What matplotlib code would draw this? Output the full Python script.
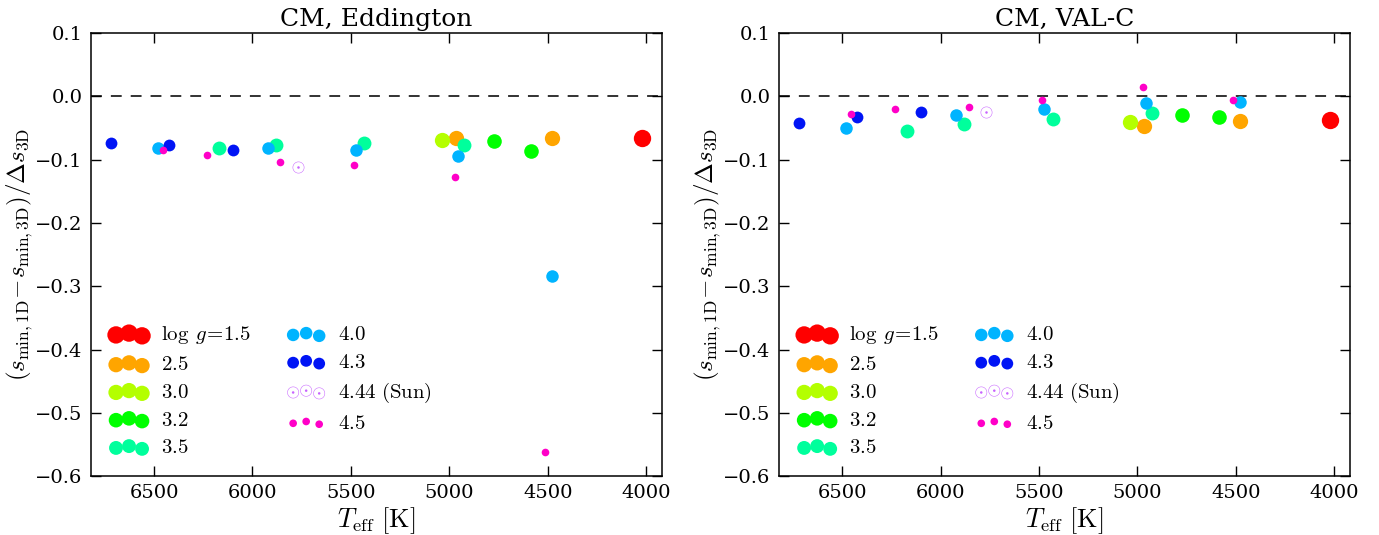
import numpy as np
import matplotlib
matplotlib.use("Agg")
import matplotlib.pyplot as plt

plt.rcParams['font.family'] = 'serif'
plt.rcParams['font.serif'] = ['DejaVu Serif']
plt.rcParams['mathtext.fontset'] = 'cm'

# log g groups, colours and marker sizes (pt)
logg_labels = [r'$\log\;g\!=\!1.5$', r'$2.5$', r'$3.0$', r'$3.2$', r'$3.5$',
               r'$4.0$', r'$4.3$', r'$4.44\ \mathrm{(Sun)}$', r'$4.5$']
colors = ['#ff0000', '#ffa500', '#b4ff00', '#00ff00', '#00ff9c',
          '#00b4ff', '#0014f5', '#c864ff', '#ff00c8']
msizes = [12.5, 11, 11, 10.5, 10, 9, 8.5, 8.5, 5.5]

# effective temperatures per group (K)
teff_15 = [4021]
teff_25 = [4968, 4477]
teff_30 = [5036]
teff_32 = [4775, 4587]
teff_35 = [6172, 5880, 5431, 4925]
teff_40 = [6481, 5923, 5474, 4955, 4479]
teff_43 = [6720, 6426, 6097]
teff_sun = [5770]
teff_45 = [6453, 6229, 5858, 5486, 4970, 4512]

# CM, Eddington
edd_15 = [-0.065]
edd_25 = [-0.065, -0.065]
edd_30 = [-0.069]
edd_32 = [-0.071, -0.086]
edd_35 = [-0.082, -0.077, -0.074, -0.077]
edd_40 = [-0.082, -0.082, -0.085, -0.094, -0.283]
edd_43 = [-0.073, -0.077, -0.085]
edd_sun = [-0.111]
edd_45 = [-0.085, -0.093, -0.104, -0.108, -0.127, -0.562]

# CM, VAL-C
val_15 = [-0.037]
val_25 = [-0.046, -0.039]
val_30 = [-0.041]
val_32 = [-0.030, -0.033]
val_35 = [-0.054, -0.043, -0.035, -0.026]
val_40 = [-0.050, -0.029, -0.020, -0.011, -0.008]
val_43 = [-0.042, -0.033, -0.025]
val_sun = [-0.024]
val_45 = [-0.027, -0.020, -0.016, -0.005, 0.015, -0.005]

teffs = [teff_15, teff_25, teff_30, teff_32, teff_35, teff_40, teff_43, teff_sun, teff_45]
panels = [
    ("CM, Eddington", [edd_15, edd_25, edd_30, edd_32, edd_35, edd_40, edd_43, edd_sun, edd_45]),
    ("CM, VAL-C", [val_15, val_25, val_30, val_32, val_35, val_40, val_43, val_sun, val_45]),
]


def yfmt(v, pos):
    s = "%.1f" % v
    if s == "-0.0":
        s = "0.0"
    return s.replace("-", "\u2212")


fig = plt.figure(figsize=(13.79, 5.35), dpi=100)
positions = [[0.066, 0.110, 0.414, 0.828], [0.565, 0.110, 0.414, 0.828]]

for pos, (title, vals) in zip(positions, panels):
    ax = fig.add_axes(pos)
    ax.axhline(0.0, color='#222222', ls='--', lw=1.3, dashes=(6, 5), zorder=1)
    for i in range(len(vals)):
        if i == 7:
            ax.scatter(teffs[i], vals[i], s=msizes[i] ** 2, marker=r'$\odot$',
                       c=colors[i], linewidths=0, label=logg_labels[i], zorder=2)
        else:
            ax.scatter(teffs[i], vals[i], s=msizes[i] ** 2, c=colors[i],
                       linewidths=0, label=logg_labels[i], zorder=2)
    ax.set_xlim(6820, 3920)
    ax.set_ylim(-0.6, 0.1)
    ax.set_xticks([6500, 6000, 5500, 5000, 4500, 4000])
    ax.set_yticks(np.arange(-0.6, 0.11, 0.1))
    ax.yaxis.set_major_formatter(matplotlib.ticker.FuncFormatter(yfmt))
    ax.tick_params(direction='in', top=True, right=True, length=7, width=1,
                   labelsize=14, pad=6)
    for sp in ax.spines.values():
        sp.set_linewidth(1.1)
    ax.set_title(title, fontsize=18, pad=5)
    ax.set_xlabel(r'$T_{\rm eff}\ [\mathrm{K}]$', fontsize=19, labelpad=2)
    ax.set_ylabel(r'$(s_{\rm min,1D}\!-\!s_{\rm min,3D})/\Delta s_{\rm 3D}$',
                  fontsize=18, labelpad=0)
    ax.legend(loc='lower left', ncol=2, scatterpoints=3, frameon=False,
              fontsize=15, columnspacing=1.75, handletextpad=0.6,
              handlelength=1.85, labelspacing=0.42, borderaxespad=0.5)

fig.savefig("out.png", dpi=100, facecolor='white')
